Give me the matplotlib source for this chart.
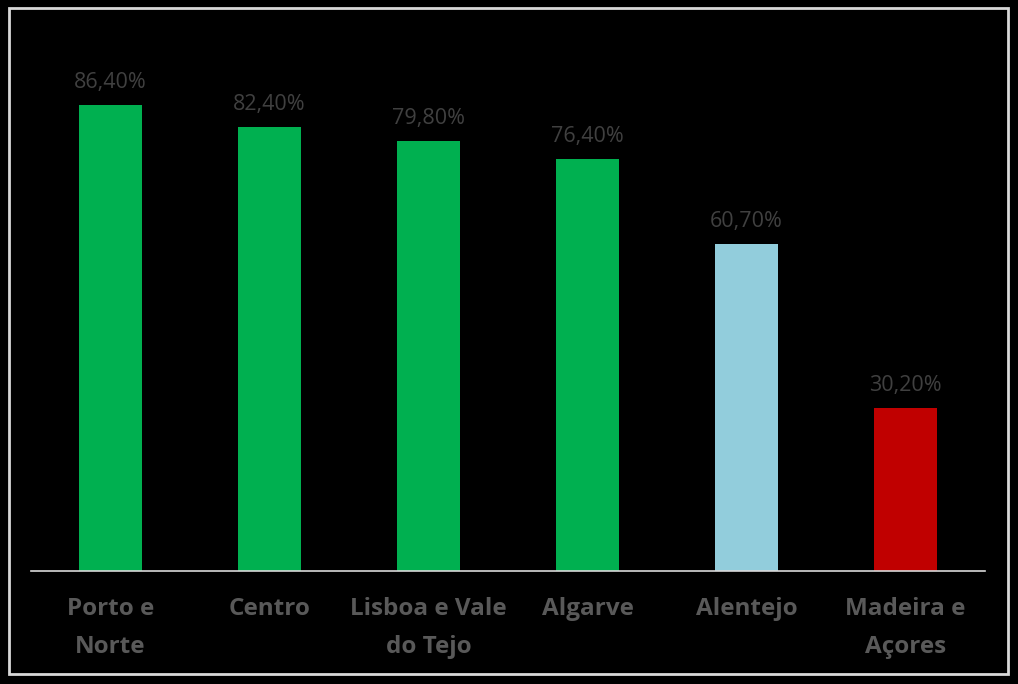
import numpy as np
import matplotlib.pyplot as plt
from matplotlib.patches import Rectangle

regions = ["Porto e\nNorte", "Centro", "Lisboa e Vale\ndo Tejo", "Algarve", "Alentejo", "Madeira e\nAçores"]
values = [86.4, 82.4, 79.8, 76.4, 60.7, 30.2]
colors = ["#00b050", "#00b050", "#00b050", "#00b050", "#92cddc", "#c00000"]

plt.rcParams['font.family'] = ['Open Sans', 'DejaVu Sans']

fig = plt.figure(figsize=(10.18, 6.84), dpi=100, facecolor="black")
ax = fig.add_axes([31 / 1018, 113 / 684, 954 / 1018, 539 / 684])
ax.set_facecolor("black")

x = np.arange(len(values))
ax.bar(x, values, width=0.4, color=colors)
for xi, v in zip(x, values):
    ax.text(xi, v + 2.2, f"{v:.2f}%".replace(".", ","), ha="center", va="bottom",
            fontsize=15.5, color="#404040")

ax.set_xlim(-0.5, len(values) - 0.5)
ax.set_ylim(0, 100)
ax.set_xticks(x)
ax.set_xticklabels(regions, fontsize=17.5, fontweight="bold", color="#595959", linespacing=1.75)
ax.tick_params(axis="x", length=0, pad=19)
ax.set_yticks([])
for side in ["top", "left", "right"]:
    ax.spines[side].set_visible(False)
ax.spines["bottom"].set_color("#d9d9d9")
ax.spines["bottom"].set_linewidth(1.2)

fig.patches.append(Rectangle((9 / 1018, 10 / 684), 999 / 1018, 666 / 684, transform=fig.transFigure,
                             fill=False, edgecolor="#d9d9d9", linewidth=2))

fig.savefig("out.png", dpi=100, facecolor="black")
